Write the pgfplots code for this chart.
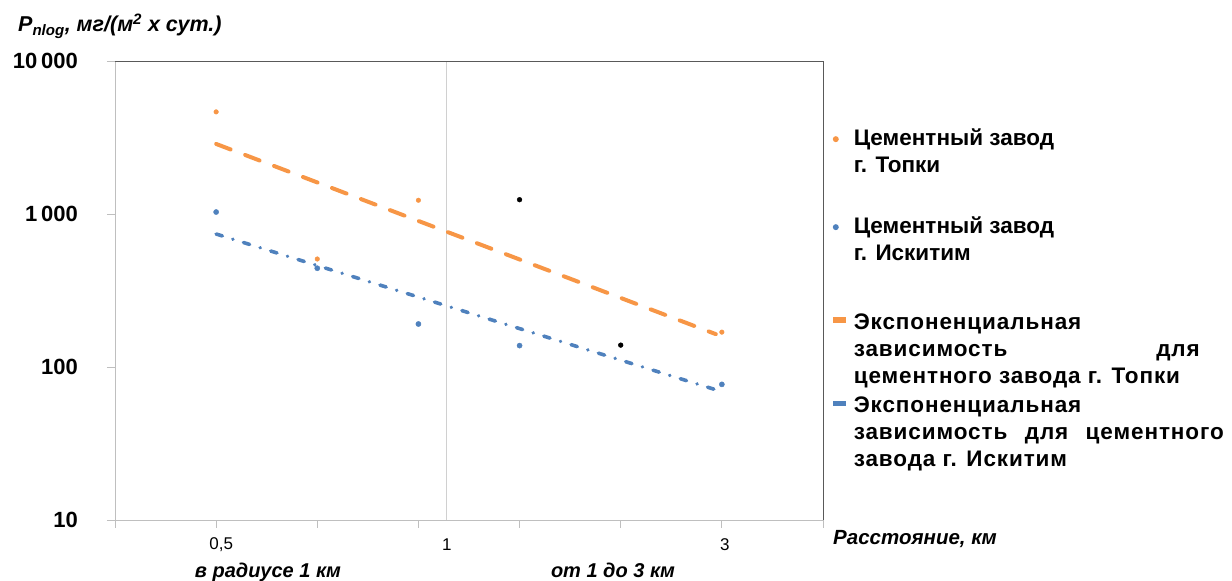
\documentclass[border=0pt]{standalone}
\usepackage{fontspec}
\setmainfont{Liberation Sans}
\usepackage{pgfplots}
\pgfplotsset{compat=1.18}
\definecolor{orng}{HTML}{F79646}
\definecolor{blu}{HTML}{4F81BD}
\definecolor{axgray}{HTML}{BFBFBF}
\definecolor{frm}{HTML}{595959}
\definecolor{vline}{HTML}{D0D0D0}
\begin{document}
\begin{tikzpicture}
\useasboundingbox (-115pt,-61pt) rectangle (1117pt,520pt);
\begin{axis}[
  scale only axis, width=708pt, height=459pt,
  xmin=0, xmax=7, ymin=10, ymax=10000, ymode=log,
  axis line style={axgray, line width=0.8pt},
  xtick={0,...,7}, xticklabels={},
  ytick={10,100,1000,10000},
  yticklabels={\textbf{10},\textbf{100},\textbf{1\,000},\textbf{10\,000}},
  yminorticks=false, xminorticks=false,
  tick align=outside, major tick length=8pt,
  xtick pos=bottom, ytick pos=left,
  tick style={axgray, line width=0.8pt},
  yticklabel style={font=\fontsize{22}{22}\selectfont, inner sep=0pt, xshift=-29pt},
  clip=false,
  legend style={at={(axis description cs:1.0065,0.855)}, anchor=north west,
    draw=none, fill=none, inner sep=0pt, row sep=0pt, column sep=0pt,
    nodes={inner sep=0pt, text depth=, text height=},
    cells={anchor=base west},
    font=\fontsize{22.5}{27}\selectfont\bfseries},
]
% vertical separator
\addplot[vline, line width=0.8pt, forget plot] coordinates {(3.273,10) (3.273,10000)};
% frame top/right
\draw[frm, line width=0.8pt] (rel axis cs:0,1) -- (rel axis cs:1,1) -- (rel axis cs:1,0);

\addplot[only marks, mark=*, mark size=2.3pt, orng, mark options={draw=orng, fill=orng},
  legend image code/.code={\path[draw=none] (0pt,0pt) (26pt,0pt); \fill[orng, draw=none] (8pt,6.6pt) circle (3pt);}]
  coordinates {(1,4650) (2,508) (3,1230) (6,169)};
\addlegendentry{\parbox[t]{220pt}{\rule{0pt}{18pt}Цементный завод\\г. Топки\rule[-43pt]{0pt}{43pt}}}

\addplot[only marks, mark=*, mark size=2.6pt, blu, mark options={draw=blu, fill=blu},
  legend image code/.code={\path[draw=none] (0pt,0pt) (26pt,0pt); \fill[blu, draw=none] (8pt,6.6pt) circle (3pt);}]
  coordinates {(1,1030) (2,442) (3,191) (4,138) (6,77)};
\addlegendentry{\parbox[t]{220pt}{\rule{0pt}{18pt}Цементный завод\\г. Искитим\rule[-51pt]{0pt}{51pt}}}

\addplot[orng, line width=4pt, line cap=round, dash pattern=on 15.5pt off 15.5pt,
  legend image code/.code={\path[draw=none] (0pt,0pt) (26pt,0pt); \fill[orng, draw=none] (5pt,7pt) rectangle (18pt,13pt);}]
  coordinates {(1,2870) (5.94,164)};
\addlegendentry{\parbox[t]{380pt}{\addfontfeature{LetterSpace=4}\rule{0pt}{18pt}Экспоненциальная\\\makebox[346pt][s]{зависимость для}\\цементного завода г. Топки\rule[-11pt]{0pt}{11pt}}}

\addplot[blu, line width=3.6pt, line cap=round, dash pattern=on 6.5pt off 11pt on 0.1pt off 11pt,
  legend image code/.code={\path[draw=none] (0pt,0pt) (26pt,0pt); \fill[blu, draw=none] (5pt,6.5pt) rectangle (18pt,12pt);}]
  coordinates {(1,740) (5.94,71)};
\addlegendentry{\parbox[t]{380pt}{\addfontfeature{LetterSpace=4}\rule{0pt}{18pt}Экспоненциальная\\\makebox[370pt][s]{зависимость для цементного}\\завода г. Искитим}}

\addplot[only marks, mark=*, mark size=2.4pt, black, forget plot]
  coordinates {(4,1240) (5,139)};

% x tick labels
\node[font=\fontsize{17}{17}\selectfont, inner sep=0pt] at (axis cs:1.05,10) [yshift=-25pt] {0,5};
\node[font=\fontsize{17}{17}\selectfont, inner sep=0pt] at (axis cs:3.28,10) [yshift=-25pt] {1};
\node[font=\fontsize{17}{17}\selectfont, inner sep=0pt] at (axis cs:6.03,10) [yshift=-25pt] {3};
\end{axis}
% titles and labels
\node[anchor=base west, inner sep=0pt, font=\fontsize{21.5}{21.5}\selectfont\bfseries\itshape] at (-97pt,488pt)
  {P\textsubscript{nlog}, мг/(м\textsuperscript{2} x сут.)};
\node[anchor=base west, inner sep=0pt, font=\fontsize{20.5}{20.5}\selectfont\bfseries\itshape] at (718pt,-25pt)
  {Расстояние, км};
\node[anchor=base, inner sep=0pt, font=\fontsize{20}{20}\selectfont\bfseries\itshape] at (153pt,-57pt)
  {в радиусе 1 км};
\node[anchor=base, inner sep=0pt, font=\fontsize{20}{20}\selectfont\bfseries\itshape] at (498pt,-57pt)
  {от 1 до 3 км};
\end{tikzpicture}
\end{document}
